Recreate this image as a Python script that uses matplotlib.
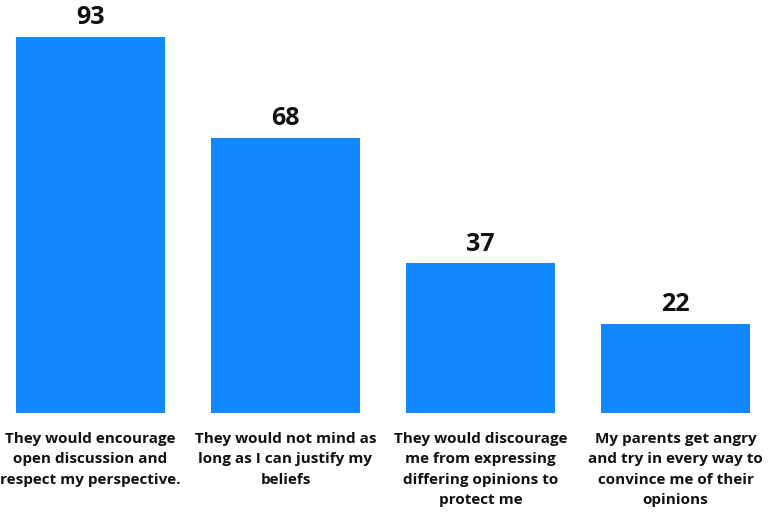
import matplotlib
matplotlib.use("Agg")
import matplotlib.pyplot as plt

categories = [
    "They would encourage\nopen discussion and\nrespect my perspective.",
    "They would not mind as\nlong as I can justify my\nbeliefs",
    "They would discourage\nme from expressing\ndiffering opinions to\nprotect me",
    "My parents get angry\nand try in every way to\nconvince me of their\nopinions",
]
values = [93, 68, 37, 22]

fig = plt.figure(figsize=(7.68, 5.13), dpi=100)
ax = fig.add_axes([0, 100/513, 1, 413/513])
x = list(range(len(values)))
bars = ax.bar(x, values, width=149/195, color="#1188FF")
ax.set_xlim(-90.5/195, (768-90.5)/195)
ax.set_ylim(0, 413/4.043)
for xi, v in zip(x, values):
    ax.text(xi, v + 1.7, str(v), ha="center", va="bottom", fontsize=18,
            fontweight="bold", family="Open Sans", color="#111111")
ax.set_xticks(x)
ax.set_xticklabels(categories, fontsize=11, fontweight="bold", family="Open Sans",
                   linespacing=1.55, color="#111111")
ax.tick_params(axis="x", length=0, pad=14)
ax.set_yticks([])
for s in ax.spines.values():
    s.set_visible(False)
fig.savefig("out.png", dpi=100)
